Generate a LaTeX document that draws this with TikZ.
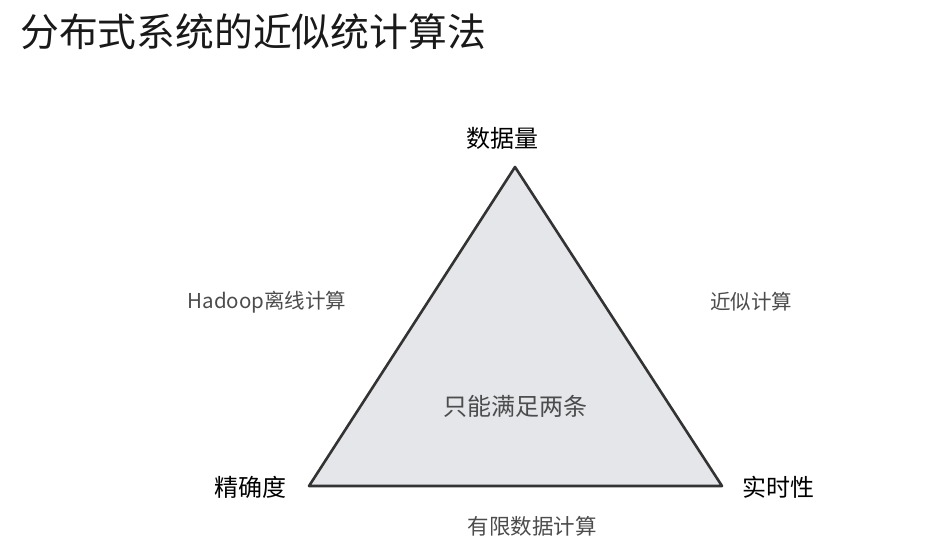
\documentclass[tikz,border=0pt]{standalone}
\usepackage{fontspec}
\newfontfamily\cjk{Noto Sans CJK SC}
\definecolor{trifill}{HTML}{E4E6E9}
\definecolor{triline}{HTML}{333333}
\begin{document}
\begin{tikzpicture}[x=1pt,y=1pt,
  vertex/.style={font=\cjk\fontsize{24}{26}\selectfont, text=black, inner sep=0pt},
  sidelabel/.style={font=\cjk\fontsize{20.5}{22}\selectfont, text=black!70, inner sep=0pt},
  edge/.style={draw=triline, line width=2.6pt, line join=round, fill=trifill}]
\useasboundingbox (0,0) rectangle (934,555);
% title
\node[font=\cjk\fontsize{38.8}{40}\selectfont, text=black!90, anchor=west, inner sep=0pt] (title) at (20,523) {分布式系统的近似统计算法};
% triangle corners
\coordinate (top) at (515,388);
\coordinate (bl) at (309,69);
\coordinate (br) at (722,69);
\draw[edge] (top) -- (bl) -- (br) -- cycle;
% corner labels
\node[vertex] (vol) at (502,417) {数据量};
\node[vertex] (acc) at (250,68) {精确度};
\node[vertex] (rt) at (778,68) {实时性};
% side labels
\node[sidelabel] (hadoop) at (267,253) {Hadoop离线计算};
\node[sidelabel] (approx) at (751,253) {近似计算};
\node[sidelabel, font=\cjk\fontsize{21.5}{23}\selectfont] (limited) at (532,29) {有限数据计算};
\node[font=\cjk\fontsize{24}{26}\selectfont, text=black!70, inner sep=0pt] (center) at (515,149) {只能满足两条};
\end{tikzpicture}
\end{document}
